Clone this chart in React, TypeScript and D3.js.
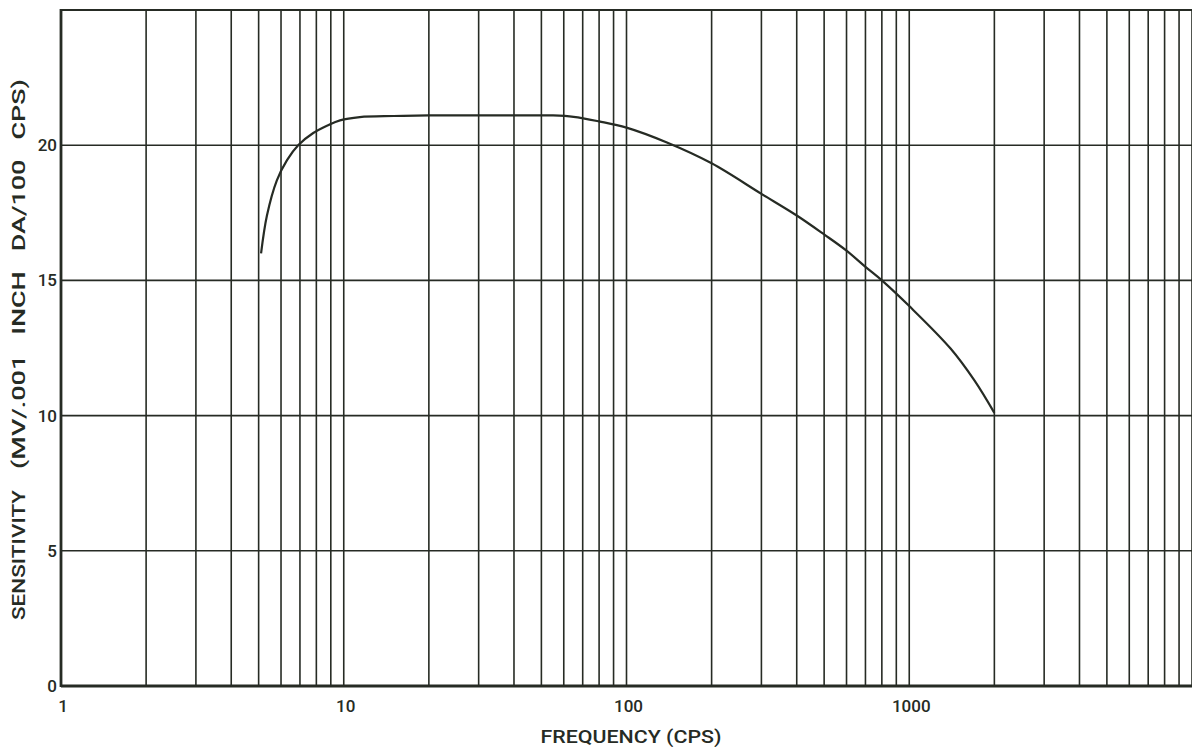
import React from "react";
import * as d3 from "d3";

const freqs = [5.1, 5.35, 5.8, 6.3, 6.9, 7.8, 8.8, 9.7, 11.4, 15, 20, 30, 40, 55, 65, 80, 100, 139, 200, 300, 400, 500, 600, 700, 800, 1000, 1400, 1700, 2000];
const sens = [16.0, 17.4, 18.7, 19.45, 20.0, 20.45, 20.74, 20.92, 21.04, 21.08, 21.1, 21.1, 21.1, 21.1, 21.05, 20.88, 20.65, 20.1, 19.33, 18.2, 17.4, 16.7, 16.1, 15.5, 15.0, 14.05, 12.48, 11.3, 10.1];

const yTicks = [0, 5, 10, 15, 20];
const xLabels = [1, 10, 100, 1000];

const W = 1192, H = 747;
const ink = "#262b24";

export default function App() {
  const x = d3.scaleLog().domain([1, 10000]).range([61, 1192]);
  const y = d3.scaleLinear().domain([0, 25]).range([686, 10]);

  const gridX: number[] = [];
  for (let d = 1; d <= 1000; d *= 10) {
    for (let m = 1; m <= 9; m++) gridX.push(d * m);
  }
  gridX.push(10000);

  const line = d3
    .line<number>()
    .x((_, i) => x(freqs[i]))
    .y((v) => y(v))
    .curve(d3.curveCatmullRom.alpha(0.5));

  const font = "Roboto, 'Liberation Sans', sans-serif";

  return (
    <svg width={W} height={H} style={{ position: "absolute", left: 0, top: 0, background: "#fff" }}>
      <rect x={0} y={0} width={W} height={H} fill="#fff" />
      {gridX.map((f) => (
        <line key={"gx" + f} x1={x(f)} x2={x(f)} y1={y(25)} y2={y(0)} stroke={ink} strokeWidth={1.6} />
      ))}
      {yTicks.map((t) => (
        <line key={"gy" + t} x1={x(1)} x2={W} y1={y(t)} y2={y(t)} stroke={ink} strokeWidth={1.6} />
      ))}
      <line x1={x(1)} x2={W} y1={y(25)} y2={y(25)} stroke={ink} strokeWidth={2.2} />
      <line x1={x(1)} x2={W} y1={y(0)} y2={y(0)} stroke={ink} strokeWidth={2.8} />
      <line x1={x(1)} x2={x(1)} y1={y(25) - 1} y2={y(0) + 1} stroke={ink} strokeWidth={2.8} />
      <path d={line(sens) || ""} fill="none" stroke={ink} strokeWidth={2.2} />
      {yTicks.map((t) => (
        <text key={"ty" + t} x={57} y={y(t) + 6} textAnchor="end" fontFamily={font} fontWeight={500} fontSize={17} fill={ink}>
          {t}
        </text>
      ))}
      {xLabels.map((t) => (
        <text key={"tx" + t} x={x(t) + 2} y={712} textAnchor="middle" fontFamily={font} fontWeight={500} fontSize={17} fill={ink}>
          {t}
        </text>
      ))}
      <text x={631} y={743} textAnchor="middle" fontFamily={font} fontWeight={500} fontSize={19} fill={ink}
        textLength={181} lengthAdjust="spacingAndGlyphs">
        FREQUENCY (CPS)
      </text>
      <text
        transform={`translate(25, 555) rotate(-90)`}
        textAnchor="middle"
        fontFamily={font}
        fontWeight={500}
        fontSize={18}
        fill={ink}
        textLength={130}
        lengthAdjust="spacingAndGlyphs"
      >
        SENSITIVITY
      </text>
      <text
        transform={`translate(25, 274) rotate(-90)`}
        textAnchor="middle"
        fontFamily={font}
        fontWeight={500}
        fontSize={18}
        fill={ink}
        style={{ whiteSpace: "pre" }}
        textLength={390}
        lengthAdjust="spacingAndGlyphs"
      >
        {"(MV/.001   INCH   DA/100   CPS)"}
      </text>
    </svg>
  );
}
